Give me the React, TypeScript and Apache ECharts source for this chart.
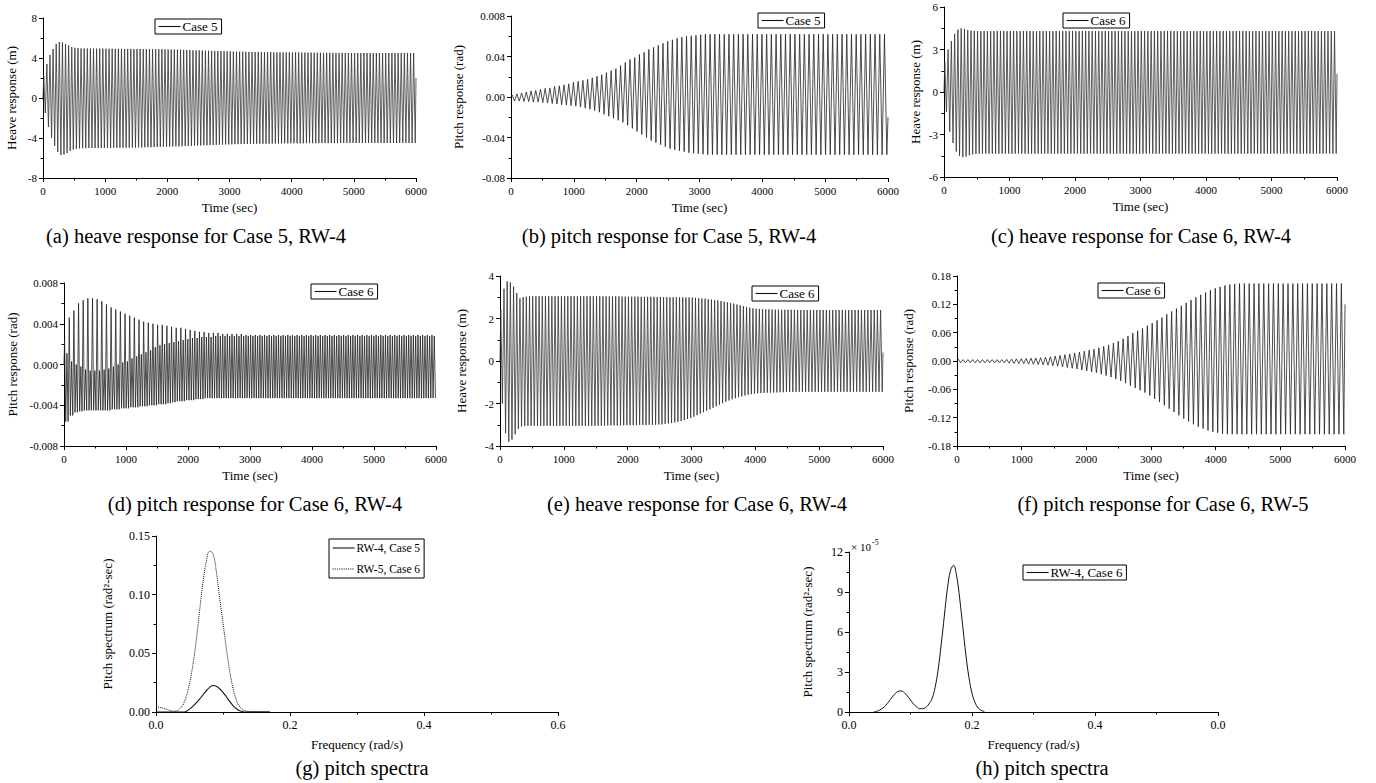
import React, { useEffect, useRef } from "react";
import * as echarts from "echarts";

const FONT = "Liberation Serif, Times New Roman, serif";
const DURATION = 6000;

// Heave record periods (s) and pitch record periods (s)
const HEAVE_PERIOD = 50;
const PITCH_PERIOD = 75;

// (a) heave, Case 5, RW-4: crest / trough of each cycle (m)
const aUpper = [
  2.2, 3.4, 4.3, 4.9, 5.4, 5.6, 5.55, 5.4, 5.25, 5.1,
  5.02, 4.98, 4.96, 4.95, 4.95, 4.95, 4.95, 4.94, 4.94, 4.94,
  4.93, 4.93, 4.93, 4.92, 4.92, 4.92, 4.91, 4.91, 4.91, 4.9,
  4.9, 4.9, 4.9, 4.89, 4.89, 4.89, 4.88, 4.88, 4.88, 4.87,
  4.86, 4.85, 4.84, 4.83, 4.82, 4.81, 4.8, 4.79, 4.78, 4.77,
  4.76, 4.75, 4.74, 4.73, 4.72, 4.71, 4.7, 4.69, 4.68, 4.67,
  4.66, 4.65, 4.64, 4.63, 4.63, 4.62, 4.61, 4.61, 4.6, 4.6,
  4.59, 4.59, 4.58, 4.58, 4.57, 4.57, 4.57, 4.56, 4.56, 4.56,
  4.55, 4.55, 4.55, 4.54, 4.54, 4.54, 4.53, 4.53, 4.53, 4.53,
  4.52, 4.52, 4.52, 4.52, 4.51, 4.51, 4.51, 4.51, 4.5, 4.5,
  4.5, 4.5, 4.5, 4.5, 4.5, 4.5, 4.5, 4.5, 4.5, 4.5,
  4.5, 4.5, 4.5, 4.5, 4.5, 4.5, 4.5, 4.5, 4.5, 4.5,
];
const aLower = [
  -1.5, -2.9, -4.0, -4.8, -5.4, -5.7, -5.65, -5.5, -5.3, -5.15,
  -5.08, -5.04, -5.02, -5.01, -5.0, -5.0, -5.0, -5.0, -4.99, -4.99,
  -4.99, -4.98, -4.98, -4.98, -4.97, -4.97, -4.96, -4.96, -4.95, -4.95,
  -4.94, -4.94, -4.93, -4.92, -4.92, -4.91, -4.9, -4.89, -4.88, -4.87,
  -4.86, -4.85, -4.84, -4.83, -4.82, -4.8, -4.79, -4.78, -4.76, -4.75,
  -4.74, -4.72, -4.71, -4.7, -4.69, -4.68, -4.67, -4.66, -4.65, -4.64,
  -4.63, -4.62, -4.61, -4.61, -4.6, -4.59, -4.59, -4.58, -4.58, -4.57,
  -4.57, -4.56, -4.56, -4.56, -4.55, -4.55, -4.55, -4.54, -4.54, -4.54,
  -4.53, -4.53, -4.53, -4.53, -4.52, -4.52, -4.52, -4.52, -4.52, -4.51,
  -4.51, -4.51, -4.51, -4.51, -4.51, -4.5, -4.5, -4.5, -4.5, -4.5,
  -4.5, -4.5, -4.5, -4.5, -4.5, -4.5, -4.5, -4.5, -4.5, -4.5,
  -4.5, -4.5, -4.5, -4.5, -4.5, -4.5, -4.5, -4.5, -4.5, -4.5,
];
const aEnd = 2.0;

// (b) pitch, Case 5, RW-4 (rad)
const bUpper = [
  0.002, 0.003, 0.004, 0.005, 0.006, 0.0065, 0.0075, 0.0085, 0.009, 0.0105,
  0.011, 0.012, 0.013, 0.0145, 0.0155, 0.0165, 0.0175, 0.019, 0.0205, 0.022,
  0.024, 0.026, 0.028, 0.031, 0.034, 0.037, 0.039, 0.042, 0.044, 0.047,
  0.049, 0.051, 0.053, 0.055, 0.0565, 0.058, 0.059, 0.06, 0.0605, 0.061,
  0.0615, 0.062, 0.062, 0.062, 0.062, 0.062, 0.062, 0.062, 0.062, 0.062,
  0.062, 0.062, 0.062, 0.062, 0.062, 0.062, 0.062, 0.062, 0.062, 0.062,
  0.062, 0.062, 0.062, 0.062, 0.062, 0.062, 0.062, 0.062, 0.062, 0.062,
  0.062, 0.062, 0.062, 0.062, 0.062, 0.062, 0.062, 0.062, 0.062, 0.062,
];
const bLower = [
  -0.004, -0.004, -0.0045, -0.0045, -0.005, -0.005, -0.0055, -0.006, -0.0065, -0.007,
  -0.0075, -0.008, -0.0085, -0.009, -0.01, -0.011, -0.012, -0.0135, -0.015, -0.017,
  -0.019, -0.021, -0.023, -0.025, -0.028, -0.031, -0.034, -0.037, -0.04, -0.043,
  -0.045, -0.047, -0.049, -0.051, -0.052, -0.053, -0.054, -0.055, -0.0555, -0.056,
  -0.0565, -0.057, -0.057, -0.057, -0.057, -0.057, -0.057, -0.057, -0.057, -0.057,
  -0.057, -0.057, -0.057, -0.057, -0.057, -0.057, -0.057, -0.057, -0.057, -0.057,
  -0.057, -0.057, -0.057, -0.057, -0.057, -0.057, -0.057, -0.057, -0.057, -0.057,
  -0.057, -0.057, -0.057, -0.057, -0.057, -0.057, -0.057, -0.057, -0.057, -0.057,
];
const bEnd = -0.02;

// (c) heave, Case 6, RW-4 (m)
const cUpper = [
  2.1, 3.0, 3.6, 4.1, 4.4, 4.5, 4.45, 4.38, 4.33, 4.31,
  4.3, 4.3, 4.3, 4.3, 4.3, 4.3, 4.3, 4.3, 4.3, 4.3,
  4.3, 4.3, 4.3, 4.3, 4.3, 4.3, 4.3, 4.3, 4.3, 4.3,
  4.3, 4.3, 4.3, 4.3, 4.3, 4.3, 4.3, 4.3, 4.3, 4.3,
  4.3, 4.3, 4.3, 4.3, 4.3, 4.3, 4.3, 4.3, 4.3, 4.3,
  4.3, 4.3, 4.3, 4.3, 4.3, 4.3, 4.3, 4.3, 4.3, 4.3,
  4.3, 4.3, 4.3, 4.3, 4.3, 4.3, 4.3, 4.3, 4.3, 4.3,
  4.3, 4.3, 4.3, 4.3, 4.3, 4.3, 4.3, 4.3, 4.3, 4.3,
  4.3, 4.3, 4.3, 4.3, 4.3, 4.3, 4.3, 4.3, 4.3, 4.3,
  4.3, 4.3, 4.3, 4.3, 4.3, 4.3, 4.3, 4.3, 4.3, 4.3,
  4.3, 4.3, 4.3, 4.3, 4.3, 4.3, 4.3, 4.3, 4.3, 4.3,
  4.3, 4.3, 4.3, 4.3, 4.3, 4.3, 4.3, 4.3, 4.3, 4.3,
];
const cLower = [
  -1.4, -2.8, -3.6, -4.2, -4.5, -4.6, -4.55, -4.47, -4.41, -4.37,
  -4.35, -4.35, -4.35, -4.35, -4.35, -4.35, -4.35, -4.35, -4.35, -4.35,
  -4.35, -4.35, -4.35, -4.35, -4.35, -4.35, -4.35, -4.35, -4.35, -4.35,
  -4.35, -4.35, -4.35, -4.35, -4.35, -4.35, -4.35, -4.35, -4.35, -4.35,
  -4.35, -4.35, -4.35, -4.35, -4.35, -4.35, -4.35, -4.35, -4.35, -4.35,
  -4.35, -4.35, -4.35, -4.35, -4.35, -4.35, -4.35, -4.35, -4.35, -4.35,
  -4.35, -4.35, -4.35, -4.35, -4.35, -4.35, -4.35, -4.35, -4.35, -4.35,
  -4.35, -4.35, -4.35, -4.35, -4.35, -4.35, -4.35, -4.35, -4.35, -4.35,
  -4.35, -4.35, -4.35, -4.35, -4.35, -4.35, -4.35, -4.35, -4.35, -4.35,
  -4.35, -4.35, -4.35, -4.35, -4.35, -4.35, -4.35, -4.35, -4.35, -4.35,
  -4.35, -4.35, -4.35, -4.35, -4.35, -4.35, -4.35, -4.35, -4.35, -4.35,
  -4.35, -4.35, -4.35, -4.35, -4.35, -4.35, -4.35, -4.35, -4.35, -4.35,
];
const cEnd = 1.3;

// (d) pitch, Case 6, RW-4 (rad): main crest, secondary crest, trough per cycle
const dUpper = [
  0.0025, 0.0046, 0.0053, 0.006, 0.0063, 0.0065, 0.0065, 0.0064, 0.0062, 0.0059,
  0.0056, 0.0054, 0.0052, 0.005, 0.0048, 0.0046, 0.0044, 0.0042, 0.0041, 0.004,
  0.0039, 0.0039, 0.0038, 0.0037, 0.0036, 0.0036, 0.0035, 0.0034, 0.0033, 0.0032,
  0.0032, 0.0031, 0.0031, 0.0031, 0.003, 0.003, 0.003, 0.003, 0.003, 0.0029,
  0.0029, 0.0029, 0.0029, 0.0029, 0.0029, 0.0029, 0.0029, 0.0029, 0.0029, 0.0029,
  0.0029, 0.0029, 0.0029, 0.0029, 0.0029, 0.0029, 0.0029, 0.0029, 0.0029, 0.0029,
  0.0029, 0.0029, 0.0029, 0.0029, 0.0029, 0.0029, 0.0029, 0.0029, 0.0029, 0.0029,
  0.0029, 0.0029, 0.0029, 0.0029, 0.0029, 0.0029, 0.0029, 0.0029, 0.0029, 0.0029,
];
const dInner = [
  0.0011, 0.0003, 0.0, -0.0002, -0.0005, -0.0006, -0.0006, -0.0006, -0.0005, -0.0004,
  -0.0002, 0.0, 0.0002, 0.0003, 0.0006, 0.0008, 0.001, 0.0012, 0.0014, 0.0017,
  0.0019, 0.002, 0.0021, 0.0022, 0.0023, 0.0024, 0.0025, 0.0026, 0.0026, 0.0027,
  0.0027, 0.0027, 0.0028, 0.0028, 0.0028, 0.0028, 0.0028, 0.0028, 0.0028, 0.0028,
  0.0028, 0.0028, 0.0028, 0.0028, 0.0028, 0.0028, 0.0028, 0.0028, 0.0028, 0.0028,
  0.0028, 0.0028, 0.0028, 0.0028, 0.0028, 0.0028, 0.0028, 0.0028, 0.0028, 0.0028,
  0.0028, 0.0028, 0.0028, 0.0028, 0.0028, 0.0028, 0.0028, 0.0028, 0.0028, 0.0028,
  0.0028, 0.0028, 0.0028, 0.0028, 0.0028, 0.0028, 0.0028, 0.0028, 0.0028, 0.0028,
];
const dLower = [
  -0.0056, -0.005, -0.0047, -0.0046, -0.0045, -0.0045, -0.0045, -0.0045, -0.0045, -0.0045,
  -0.0044, -0.0044, -0.0043, -0.0043, -0.0042, -0.0042, -0.0041, -0.0041, -0.004, -0.004,
  -0.0039, -0.0039, -0.0038, -0.0037, -0.0036, -0.0036, -0.0035, -0.0035, -0.0034, -0.0034,
  -0.0033, -0.0033, -0.0033, -0.0033, -0.0033, -0.0033, -0.0033, -0.0033, -0.0033, -0.0033,
  -0.0033, -0.0033, -0.0033, -0.0033, -0.0033, -0.0033, -0.0033, -0.0033, -0.0033, -0.0033,
  -0.0033, -0.0033, -0.0033, -0.0033, -0.0033, -0.0033, -0.0033, -0.0033, -0.0033, -0.0033,
  -0.0033, -0.0033, -0.0033, -0.0033, -0.0033, -0.0033, -0.0033, -0.0033, -0.0033, -0.0033,
  -0.0033, -0.0033, -0.0033, -0.0033, -0.0033, -0.0033, -0.0033, -0.0033, -0.0033, -0.0033,
];

// (e) heave, Case 6, RW-4 (m)
const eUpper = [
  2.4, 3.4, 3.75, 3.7, 3.5, 3.2, 2.95, 3.0, 3.03, 3.05,
  3.05, 3.05, 3.05, 3.05, 3.05, 3.05, 3.05, 3.05, 3.05, 3.05,
  3.05, 3.05, 3.05, 3.05, 3.05, 3.05, 3.05, 3.05, 3.05, 3.05,
  3.05, 3.05, 3.04, 3.04, 3.04, 3.04, 3.04, 3.04, 3.03, 3.03,
  3.03, 3.03, 3.03, 3.03, 3.02, 3.02, 3.02, 3.02, 3.02, 3.01,
  3.01, 3.01, 3.01, 3.0, 3.0, 3.0, 3.0, 3.0, 2.99, 2.99,
  2.98, 2.97, 2.96, 2.94, 2.93, 2.91, 2.89, 2.87, 2.85, 2.82,
  2.79, 2.76, 2.73, 2.7, 2.66, 2.62, 2.58, 2.54, 2.51, 2.48,
  2.46, 2.45, 2.44, 2.43, 2.43, 2.42, 2.42, 2.42, 2.41, 2.41,
  2.41, 2.41, 2.41, 2.4, 2.4, 2.4, 2.4, 2.4, 2.4, 2.4,
  2.4, 2.4, 2.4, 2.4, 2.4, 2.4, 2.4, 2.4, 2.4, 2.4,
  2.4, 2.4, 2.4, 2.4, 2.4, 2.4, 2.4, 2.4, 2.4, 2.4,
];
const eLower = [
  -2.0, -3.4, -3.8, -3.7, -3.45, -3.2, -3.08, -3.05, -3.05, -3.05,
  -3.05, -3.05, -3.05, -3.05, -3.05, -3.05, -3.05, -3.05, -3.05, -3.05,
  -3.05, -3.05, -3.05, -3.05, -3.05, -3.05, -3.05, -3.05, -3.05, -3.05,
  -3.04, -3.04, -3.04, -3.04, -3.03, -3.03, -3.03, -3.03, -3.03, -3.02,
  -3.02, -3.02, -3.02, -3.01, -3.01, -3.01, -3.0, -3.0, -3.0, -2.99,
  -2.98, -2.96, -2.94, -2.92, -2.89, -2.86, -2.82, -2.78, -2.73, -2.68,
  -2.62, -2.55, -2.48, -2.41, -2.34, -2.27, -2.2, -2.13, -2.06, -1.99,
  -1.92, -1.86, -1.8, -1.75, -1.7, -1.66, -1.62, -1.59, -1.56, -1.54,
  -1.52, -1.51, -1.5, -1.49, -1.49, -1.48, -1.48, -1.47, -1.47, -1.46,
  -1.46, -1.46, -1.45, -1.45, -1.45, -1.45, -1.45, -1.45, -1.45, -1.45,
  -1.45, -1.45, -1.45, -1.45, -1.45, -1.45, -1.45, -1.45, -1.45, -1.45,
  -1.45, -1.45, -1.45, -1.45, -1.45, -1.45, -1.45, -1.45, -1.45, -1.45,
];
const eEnd = 0.4;

// (f) pitch, Case 6, RW-5 (rad)
const fUpper = [
  0.004, 0.003, 0.003, 0.003, 0.003, 0.003, 0.003, 0.003, 0.003, 0.003,
  0.0035, 0.004, 0.0045, 0.005, 0.0055, 0.006, 0.0065, 0.007, 0.008, 0.009,
  0.0105, 0.012, 0.0135, 0.015, 0.017, 0.019, 0.021, 0.023, 0.025, 0.028,
  0.031, 0.034, 0.038, 0.042, 0.047, 0.053, 0.059, 0.064, 0.069, 0.075,
  0.08, 0.086, 0.092, 0.099, 0.105, 0.111, 0.117, 0.123, 0.129, 0.135,
  0.14, 0.145, 0.15, 0.154, 0.157, 0.16, 0.162, 0.163, 0.164, 0.164,
  0.164, 0.164, 0.164, 0.164, 0.164, 0.164, 0.164, 0.164, 0.164, 0.164,
  0.164, 0.164, 0.164, 0.164, 0.164, 0.164, 0.164, 0.164, 0.164, 0.164,
];
const fLower = [
  -0.004, -0.004, -0.004, -0.004, -0.004, -0.004, -0.004, -0.004, -0.004, -0.004,
  -0.0045, -0.005, -0.0055, -0.006, -0.0065, -0.007, -0.0075, -0.008, -0.009, -0.01,
  -0.011, -0.0125, -0.014, -0.0155, -0.017, -0.019, -0.021, -0.023, -0.025, -0.028,
  -0.031, -0.034, -0.038, -0.042, -0.047, -0.052, -0.057, -0.062, -0.067, -0.073,
  -0.08, -0.087, -0.094, -0.101, -0.108, -0.115, -0.122, -0.128, -0.134, -0.139,
  -0.143, -0.147, -0.15, -0.152, -0.154, -0.155, -0.155, -0.155, -0.155, -0.155,
  -0.155, -0.155, -0.155, -0.155, -0.155, -0.155, -0.155, -0.155, -0.155, -0.155,
  -0.155, -0.155, -0.155, -0.155, -0.155, -0.155, -0.155, -0.155, -0.155, -0.155,
];
const fEnd = 0.12;

// (g) pitch spectra (rad^2-sec) against frequency (rad/s)
const freqG = [
  0, 0.005, 0.01, 0.015, 0.02, 0.025, 0.03, 0.035, 0.04, 0.045,
  0.05, 0.055, 0.06, 0.065, 0.07, 0.075, 0.08, 0.085, 0.09, 0.095,
  0.1, 0.105, 0.11, 0.115, 0.12, 0.125, 0.13, 0.135, 0.14, 0.145,
  0.15, 0.155, 0.16, 0.165, 0.17,
];
const specRW4Case5 = [
  0, 0, 0, 0, 0, 0, 0, 0, 0, 0.0005,
  0.0025, 0.0048, 0.0078, 0.011, 0.0145, 0.018, 0.021, 0.0226, 0.022, 0.0198,
  0.0168, 0.013, 0.009, 0.0055, 0.0028, 0.001, 0.0002, 0, 0, 0,
  0, 0, 0, 0, 0,
];
const specRW5Case6 = [
  0.0045, 0.004, 0.0033, 0.0025, 0.0015, 0.0007, 0.0008, 0.0025, 0.006, 0.013,
  0.024, 0.04, 0.061, 0.086, 0.11, 0.128, 0.137, 0.135, 0.12, 0.097,
  0.076, 0.054, 0.035, 0.02, 0.01, 0.0045, 0.002, 0.0008, 0.0005, 0.0004,
  0.0004, 0.0003, 0.0003, 0.0003, 0.0003,
];

// (h) pitch spectrum, RW-4 Case 6 (x 1e-5 rad^2-sec)
const freqH = [
  0.04, 0.045, 0.05, 0.055, 0.06, 0.065, 0.07, 0.075, 0.08, 0.085,
  0.09, 0.095, 0.1, 0.105, 0.11, 0.115, 0.12, 0.125, 0.13, 0.135,
  0.14, 0.145, 0.15, 0.155, 0.16, 0.165, 0.17, 0.175, 0.18, 0.185,
  0.19, 0.195, 0.2, 0.205, 0.21, 0.215, 0.22,
];
const specRW4Case6 = [
  0, 0.05, 0.15, 0.3, 0.5, 0.8, 1.1, 1.38, 1.55, 1.58,
  1.45, 1.2, 0.9, 0.6, 0.38, 0.25, 0.25, 0.35, 0.6, 1.0,
  1.85, 3.2, 5.1, 7.2, 9.25, 10.6, 11.0, 10.2, 8.5, 6.4,
  4.3, 2.6, 1.4, 0.7, 0.3, 0.12, 0.04,
];

const captions = [
  "(a) heave response for Case 5, RW-4",
  "(b) pitch response for Case 5, RW-4",
  "(c) heave response for Case 6, RW-4",
  "(d) pitch response for Case 6, RW-4",
  "(e) heave response for Case 6, RW-4",
  "(f) pitch response for Case 6, RW-5",
  "(g) pitch spectra",
  "(h) pitch spectra",
];

// Crest/trough sequence of an oscillating record, one crest and one trough per cycle
function swing(period: number, upper: number[], lower: number[], end?: number) {
  const pts: number[][] = [[0, 0]];
  upper.forEach((u, k) => {
    pts.push([k * period + period * 0.25, u]);
    pts.push([k * period + period * 0.75, lower[k]]);
  });
  if (end !== undefined) pts.push([DURATION, end]);
  return pts;
}

// Two-frequency record: main crest, trough, secondary crest, trough per cycle
function doubleSwing(period: number, upper: number[], inner: number[], lower: number[]) {
  const pts: number[][] = [[0, 0]];
  upper.forEach((u, k) => {
    const t0 = k * period;
    pts.push([t0 + period * 0.13, u]);
    pts.push([t0 + period * 0.37, lower[k]]);
    pts.push([t0 + period * 0.63, inner[k]]);
    pts.push([t0 + period * 0.88, lower[k]]);
  });
  return pts;
}

const pairs = (xs: number[], ys: number[]) => xs.map((x, i) => [x, ys[i]]);

const grids = [
  { left: 43, top: 18, width: 373, height: 160 },
  { left: 511, top: 16, width: 377, height: 162 },
  { left: 944, top: 7, width: 393, height: 170 },
  { left: 64, top: 283, width: 372, height: 163 },
  { left: 500, top: 276, width: 383, height: 170 },
  { left: 957, top: 276, width: 388, height: 170 },
  { left: 156, top: 536, width: 402, height: 176 },
  { left: 849, top: 552, width: 369, height: 160 },
];

const black = "#000";

function axisBase(gridIndex: number, min: number, max: number, interval: number, name: string, fmt: (v: number) => string, nameGap: number, fontSize: number, margin: number) {
  return {
    type: "value",
    gridIndex,
    min,
    max,
    interval,
    name,
    nameLocation: "middle",
    nameGap,
    nameTextStyle: { color: black, fontSize: 13, fontFamily: FONT },
    axisLine: { show: true, onZero: false, lineStyle: { color: black, width: 1 } },
    axisTick: { show: true, length: 4, lineStyle: { color: black } },
    minorTick: { show: true, splitNumber: 2, length: 2.5, lineStyle: { color: black } },
    splitLine: { show: false },
    minorSplitLine: { show: false },
    axisLabel: { color: black, fontSize, fontFamily: FONT, margin, formatter: fmt },
  };
}

const xAxis = (g: number, min: number, max: number, iv: number, name: string, fmt: (v: number) => string, gap: number, fs = 11) =>
  axisBase(g, min, max, iv, name, fmt, gap, fs, 7);
const yAxis = (g: number, min: number, max: number, iv: number, name: string, fmt: (v: number) => string, gap: number, fs = 11) =>
  axisBase(g, min, max, iv, name, fmt, gap, fs, 6);

const near = (a: number, b: number) => Math.abs(a - b) < 1e-9;
const intFmt = (v: number) => String(Math.round(v));
const fixed = (d: number) => (v: number) => (near(v, 0) ? 0 : v).toFixed(d);

function legend(names: string[], left: number, top: number, orient = "horizontal", fontSize = 13, itemGap = 4, padding = [1, 4, 1, 3]) {
  return {
    data: names,
    left,
    top,
    orient,
    itemWidth: 22,
    itemHeight: 8,
    itemGap,
    padding,
    borderColor: black,
    borderWidth: 1,
    backgroundColor: "#fff",
    selectedMode: false,
    itemStyle: { opacity: 0 },
    lineStyle: { width: 1.1, color: "#111" },
    textStyle: { color: black, fontSize, fontFamily: FONT, padding: [0, 0, 0, -3] },
  };
}

function lineSeries(name: string, idx: number, data: number[][], lineStyle: any, extra: any = {}) {
  return {
    type: "line",
    name,
    xAxisIndex: idx,
    yAxisIndex: idx,
    data,
    symbol: "none",
    silent: true,
    color: "#111",
    lineStyle,
    ...extra,
  };
}

const heaveTrace = { color: "#333", width: 0.8 };
const pitchTrace = { color: "#222", width: 0.8 };

function caption(text: string, x: number, y: number) {
  return {
    type: "text",
    x,
    y,
    style: { text, fill: black, font: `20.5px ${FONT}`, align: "center", verticalAlign: "middle" },
  };
}

export default function App() {
  const ref = useRef<HTMLDivElement>(null);

  useEffect(() => {
    if (!ref.current) return;
    const chart = echarts.init(ref.current, undefined, { renderer: "svg" });
    const t = (v: number) => intFmt(v);

    const option = {
      animation: false,
      backgroundColor: "#fff",
      textStyle: { fontFamily: FONT },
      grid: grids,
      xAxis: [
        xAxis(0, 0, DURATION, 1000, "Time (sec)", t, 23),
        xAxis(1, 0, DURATION, 1000, "Time (sec)", t, 23),
        xAxis(2, 0, DURATION, 1000, "Time (sec)", t, 23),
        xAxis(3, 0, DURATION, 1000, "Time (sec)", t, 23),
        xAxis(4, 0, DURATION, 1000, "Time (sec)", t, 23),
        xAxis(5, 0, DURATION, 1000, "Time (sec)", t, 23),
        xAxis(6, 0, 0.6, 0.2, "Frequency (rad/s)", fixed(1), 26, 12),
        xAxis(7, 0, 0.6, 0.2, "Frequency (rad/s)", (v: number) => (near(v, 0.6) ? "0.0" : fixed(1)(v)), 26, 12),
      ],
      yAxis: [
        yAxis(0, -8, 8, 4, "Heave response (m)", intFmt, 25),
        yAxis(1, -0.08, 0.08, 0.04, "Pitch response (rad)", (v: number) => (near(v, 0.08) ? "0.008" : fixed(2)(v)), 46),
        yAxis(2, -6, 6, 3, "Heave response (m)", intFmt, 22),
        yAxis(3, -0.008, 0.008, 0.004, "Pitch response (rad)", fixed(3), 45),
        yAxis(4, -4, 4, 2, "Heave response (m)", intFmt, 32),
        yAxis(5, -0.18, 0.18, 0.06, "Pitch response (rad)", fixed(2), 42),
        yAxis(6, 0, 0.15, 0.05, "Pitch spectrum (rad\u00B2-sec)", fixed(2), 42, 12),
        yAxis(7, 0, 12, 3, "Pitch spectrum (rad\u00B2-sec)", intFmt, 35, 12),
      ],
      legend: [
        legend(["Case 5"], 155, 19),
        legend(["Case 5"], 758, 13),
        legend(["Case 6"], 1063, 13),
        legend(["Case 6"], 311, 284),
        legend(["Case 6"], 752, 286),
        legend(["Case 6"], 1098, 283),
        legend(["RW-4, Case 5", "RW-5, Case 6"], 329, 539, "vertical", 11.5, 9, [3, 4, 3, 3]),
        legend(["RW-4, Case 6"], 1023, 565),
      ],
      series: [
        lineSeries("Case 5", 0, swing(HEAVE_PERIOD, aUpper, aLower, aEnd), heaveTrace),
        lineSeries("Case 5", 1, swing(PITCH_PERIOD, bUpper, bLower, bEnd), pitchTrace),
        lineSeries("Case 6", 2, swing(HEAVE_PERIOD, cUpper, cLower, cEnd), heaveTrace),
        lineSeries("Case 6", 3, doubleSwing(PITCH_PERIOD, dUpper, dInner, dLower), pitchTrace),
        lineSeries("Case 6", 4, swing(HEAVE_PERIOD, eUpper, eLower, eEnd), heaveTrace),
        lineSeries("Case 6", 5, swing(PITCH_PERIOD, fUpper, fLower, fEnd), pitchTrace),
        lineSeries("RW-4, Case 5", 6, pairs(freqG, specRW4Case5), { color: "#111", width: 1.1 }, { smooth: 0.4 }),
        lineSeries("RW-5, Case 6", 6, pairs(freqG, specRW5Case6), { color: "#111", width: 1, type: "dotted" }, { smooth: 0.4 }),
        lineSeries("RW-4, Case 6", 7, pairs(freqH, specRW4Case6), { color: "#111", width: 1 }, { smooth: 0.4 }),
      ],
      graphic: [
        caption(captions[0], 196, 236),
        caption(captions[1], 669, 236),
        caption(captions[2], 1141, 236),
        caption(captions[3], 255, 504),
        caption(captions[4], 697, 504),
        caption(captions[5], 1163, 504),
        caption(captions[6], 362, 768),
        caption(captions[7], 1042, 768),
        {
          type: "text",
          x: 851,
          y: 547,
          style: { text: "\u00D7 10", fill: black, font: `11px ${FONT}`, align: "left", verticalAlign: "middle" },
        },
        {
          type: "text",
          x: 872,
          y: 542,
          style: { text: "-5", fill: black, font: `8px ${FONT}`, align: "left", verticalAlign: "middle" },
        },
      ],
    };

    chart.setOption(option as any);
    return () => chart.dispose();
  }, []);

  return (
    <div
      ref={ref}
      style={{ position: "fixed", left: 0, top: 0, width: 1376, height: 783, background: "#fff" }}
    />
  );
}
